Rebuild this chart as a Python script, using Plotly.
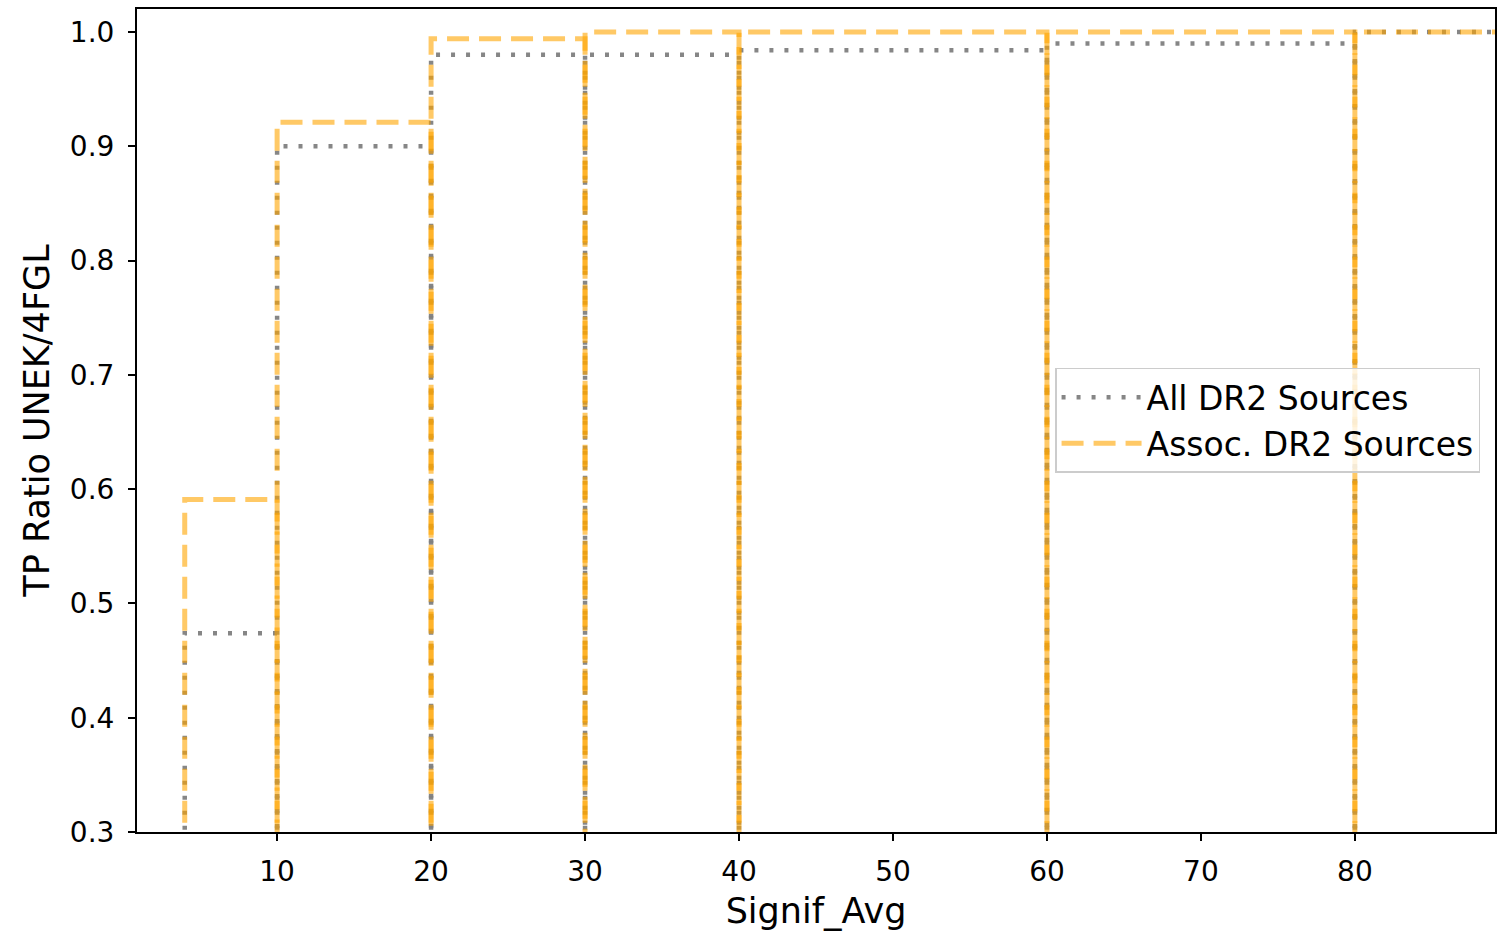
import plotly.graph_objects as go

bin_edges = [4, 10, 20, 30, 40, 60, 80, 100]
all_dr2 = [0.474, 0.900, 0.980, 0.980, 0.984, 0.990, 1.000]
assoc_dr2 = [0.591, 0.921, 0.994, 1.000, 1.000, 1.000, 1.000]

series = [
    ("All DR2 Sources", all_dr2, dict(color="rgba(128,128,128,0.95)", width=4.5, dash="4px,11px")),
    ("Assoc. DR2 Sources", assoc_dr2, dict(color="rgba(255,165,0,0.6)", width=5, dash="22px,10px")),
]

fig = go.Figure()
for name, vals, line in series:
    for i, h in enumerate(vals):
        x0, x1 = bin_edges[i], bin_edges[i + 1]
        fig.add_trace(go.Scatter(
            x=[x0, x0, x1, x1], y=[0, h, h, 0],
            mode="lines", line=line, name=name,
            legendgroup=name, showlegend=(i == 0),
            hoverinfo="skip",
        ))

axis_common = dict(
    showline=True, linecolor="black", linewidth=2, mirror=True,
    ticks="outside", ticklen=7, tickwidth=1.8, tickcolor="black",
    showgrid=False, zeroline=False,
    tickfont=dict(family="DejaVu Sans", size=28, color="black"),
)

fig.update_layout(
    width=1509, height=936,
    margin=dict(l=137, r=14, t=7, b=104),
    paper_bgcolor="white", plot_bgcolor="white",
    font=dict(family="DejaVu Sans", color="black"),
    xaxis=dict(range=[0.9, 89.1], tickvals=[10, 20, 30, 40, 50, 60, 70, 80],
               ticklabelstandoff=6,
               title=dict(text="Signif_Avg", font=dict(size=35), standoff=12), **axis_common),
    yaxis=dict(range=[0.3, 1.0201], tickvals=[0.3, 0.4, 0.5, 0.6, 0.7, 0.8, 0.9, 1.0],
               tickformat=".1f", ticklabelstandoff=8,
               title=dict(text="TP Ratio UNEK/4FGL", font=dict(size=35), standoff=10), **axis_common),
    legend=dict(x=0.989, y=0.564, xanchor="right", yanchor="top",
                bgcolor="rgba(255,255,255,0.8)", bordercolor="#cccccc", borderwidth=1.5,
                font=dict(family="DejaVu Sans", size=33, color="black"),
                itemwidth=80, tracegroupgap=0),
    showlegend=True,
)

fig.write_html("out.html")
